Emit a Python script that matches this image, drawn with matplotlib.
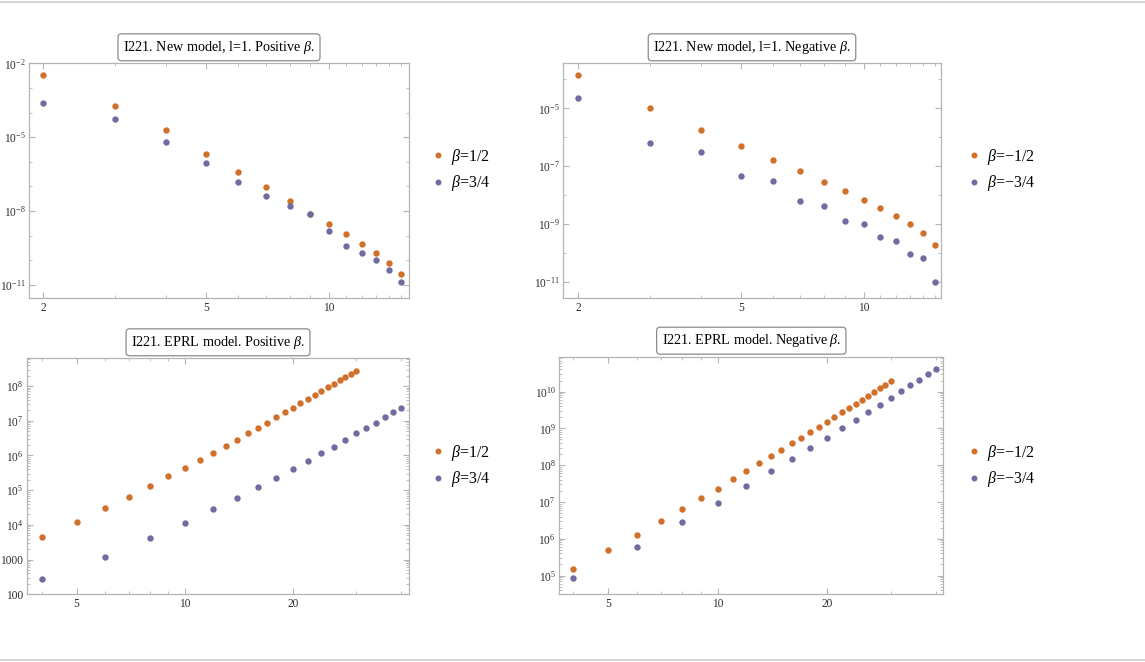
import matplotlib
matplotlib.use("Agg")
import matplotlib.pyplot as plt
import numpy as np
from matplotlib.lines import Line2D
from matplotlib.ticker import FixedLocator, NullFormatter, FixedFormatter

plt.rcParams["font.family"] = ["Liberation Serif", "DejaVu Serif"]
plt.rcParams["mathtext.fontset"] = "custom"
plt.rcParams["mathtext.rm"] = "Liberation Serif"
plt.rcParams["mathtext.it"] = "Liberation Serif:italic"

ORANGE = "#D0702A"
PURPLE = "#6F6CA0"
FRAME = "#B4B4B4"

# ---- data ----
# New model, l=1, positive beta
new_x = [2, 3, 4, 5, 6, 7, 8, 9, 10, 11, 12, 13, 14, 15]
new_pos_12 = [3.4e-3, 1.9e-4, 2.0e-5, 2.0e-6, 3.9e-7, 9.5e-8, 2.5e-8, 7.9e-9,
              2.9e-9, 1.15e-9, 4.8e-10, 2.0e-10, 7.9e-11, 2.7e-11]
new_pos_34 = [2.4e-4, 5.6e-5, 6.5e-6, 8.9e-7, 1.5e-7, 4.1e-8, 1.6e-8, 7.9e-9,
              1.6e-9, 4.0e-10, 1.9e-10, 1.05e-10, 4.1e-11, 1.3e-11]
# New model, l=1, negative beta
new_neg_12 = [1.4e-4, 1.0e-5, 1.8e-6, 5.1e-7, 1.7e-7, 6.8e-8, 2.9e-8, 1.4e-8,
              6.9e-9, 3.6e-9, 1.9e-9, 1.0e-9, 5.0e-10, 1.9e-10]
new_neg_34 = [2.3e-5, 6.6e-7, 3.1e-7, 4.5e-8, 3.1e-8, 6.2e-9, 4.2e-9, 1.3e-9,
              1.0e-9, 3.5e-10, 2.5e-10, 8.9e-11, 6.5e-11, 9.8e-12]

# EPRL model
eprl_x12 = list(range(4, 31))
eprl_x34 = list(range(4, 41, 2))
eprl_pos_12 = [4.5e3, 1.2e4, 3.0e4, 6.3e4, 1.3e5, 2.5e5, 4.4e5, 7.4e5, 1.2e6,
               1.9e6, 2.8e6, 4.3e6, 6.2e6, 8.9e6, 1.26e7, 1.74e7, 2.3e7, 3.2e7,
               4.2e7, 5.5e7, 7.1e7, 9.1e7, 1.17e8, 1.48e8, 1.86e8, 2.24e8, 2.8e8]
eprl_pos_34 = [2.8e2, 1.2e3, 4.1e3, 1.1e4, 2.8e4, 6.0e4, 1.23e5, 2.3e5, 4.2e5,
               7.1e5, 1.17e6, 1.8e6, 2.8e6, 4.3e6, 6.2e6, 8.7e6, 1.26e7, 1.74e7,
               2.3e7]
eprl_neg_12 = [1.55e5, 4.8e5, 1.3e6, 3.0e6, 6.5e6, 1.26e7, 2.3e7, 4.2e7, 6.9e7,
               1.12e8, 1.74e8, 2.6e8, 4.0e8, 5.6e8, 7.9e8, 1.12e9, 1.5e9, 2.1e9,
               2.8e9, 3.7e9, 4.7e9, 6.0e9, 7.8e9, 1.0e10, 1.26e10, 1.55e10,
               1.95e10]
eprl_neg_34 = [8.5e4, 6.0e5, 2.9e6, 9.5e6, 2.8e7, 6.8e7, 1.48e8, 3.0e8, 5.5e8,
               1.0e9, 1.66e9, 2.75e9, 4.4e9, 6.8e9, 1.02e10, 1.48e10, 2.1e10,
               3.0e10, 4.2e10]

titles = [r"I221. New model, l=1. Positive $\beta$.",
          r"I221. New model, l=1. Negative $\beta$.",
          r"I221. EPRL model. Positive $\beta$.",
          r"I221. EPRL model. Negative $\beta$."]
labels_pos = [r"$\beta$=1/2", r"$\beta$=3/4"]
labels_neg = [r"$\beta$=−1/2", r"$\beta$=−3/4"]

W, H = 1145, 662
fig = plt.figure(figsize=(W / 100, H / 100), dpi=100)


def rect(x0, y0, x1, y1):
    return [x0 / W, 1 - y1 / H, (x1 - x0) / W, (y1 - y0) / H]


def style(ax, xlim, ylim, xmaj, xlab, xmin, ymaj, ylab, ymin):
    ax.set_xscale("log")
    ax.set_yscale("log")
    ax.set_xlim(*xlim)
    ax.set_ylim(*ylim)
    ax.xaxis.set_major_locator(FixedLocator(xmaj))
    ax.xaxis.set_major_formatter(FixedFormatter(xlab))
    ax.xaxis.set_minor_locator(FixedLocator(xmin))
    ax.xaxis.set_minor_formatter(NullFormatter())
    ax.yaxis.set_major_locator(FixedLocator(ymaj))
    ax.yaxis.set_major_formatter(FixedFormatter(ylab))
    ax.yaxis.set_minor_locator(FixedLocator(ymin))
    ax.yaxis.set_minor_formatter(NullFormatter())
    for s in ax.spines.values():
        s.set_color(FRAME)
        s.set_linewidth(0.9)
    ax.tick_params(which="both", direction="in", top=True, right=True,
                   color=FRAME, labelcolor="#2E2E2E", labelsize=8.3, pad=2.5)
    ax.tick_params(which="major", length=4, width=0.8)
    ax.tick_params(which="minor", length=2, width=0.6)


def title(ax, txt):
    ax.set_title(txt, fontsize=10.2, pad=9,
                 bbox=dict(boxstyle="round,pad=0.35,rounding_size=0.25",
                           fc="white", ec="#8C8C8C", lw=0.9))


def dots(ax, x, y, c):
    ax.plot(x, y, "o", color=c, ms=4.6, mec="none", clip_on=False)


def legend(x, y, labs):
    h = [Line2D([], [], ls="none", marker="o", ms=4.3, color=ORANGE, mec="none"),
         Line2D([], [], ls="none", marker="o", ms=4.3, color=PURPLE, mec="none")]
    fig.legend(h, labs, loc="center left", bbox_to_anchor=(x / W, 1 - y / H),
               frameon=False, fontsize=11.5, handlelength=0.6, handletextpad=0.55,
               labelspacing=0.4, borderpad=0, borderaxespad=0)


xmin_top = [3, 4, 6, 7, 8, 9, 11, 12, 13, 14, 15]
xmin_bot = [4, 6, 7, 8, 9, 30, 40]

# top left
ax1 = fig.add_axes(rect(29, 63.3, 409, 298.3))
style(ax1, (1.845, 15.67), (10 ** -11.54, 1e-2),
      [2, 5, 10], ["2", "5", "10"], xmin_top,
      [1e-2, 1e-5, 1e-8, 1e-11],
      [r"$10^{-2}$", r"$10^{-5}$", r"$10^{-8}$", r"$10^{-11}$"],
      [10.0 ** k for k in range(-11, -1)])
dots(ax1, new_x, new_pos_12, ORANGE)
dots(ax1, new_x, new_pos_34, PURPLE)
title(ax1, titles[0])
legend(433, 170, labels_pos)

# top right
ax2 = fig.add_axes(rect(563.3, 63.3, 940.7, 298.3))
style(ax2, (1.837, 15.46), (10 ** -11.57, 10 ** -3.44),
      [2, 5, 10], ["2", "5", "10"], xmin_top,
      [1e-5, 1e-7, 1e-9, 1e-11],
      [r"$10^{-5}$", r"$10^{-7}$", r"$10^{-9}$", r"$10^{-11}$"],
      [10.0 ** k for k in range(-11, -3)])
dots(ax2, new_x, new_neg_12, ORANGE)
dots(ax2, new_x, new_neg_34, PURPLE)
title(ax2, titles[1])
legend(969, 170, labels_neg)

# bottom left
ax3 = fig.add_axes(rect(26.7, 358.3, 409.3, 594.3))
style(ax3, (3.63, 42.2), (100, 10 ** 8.8),
      [5, 10, 20], ["5", "10", "20"], xmin_bot,
      [1e2, 1e3, 1e4, 1e5, 1e6, 1e7, 1e8],
      ["100", "1000", r"$10^{4}$", r"$10^{5}$", r"$10^{6}$", r"$10^{7}$",
       r"$10^{8}$"],
      [m * 10.0 ** k for k in range(2, 9) for m in (2, 3, 4, 5, 6, 7, 8, 9)])
dots(ax3, eprl_x12, eprl_pos_12, ORANGE)
dots(ax3, eprl_x34, eprl_pos_34, PURPLE)
title(ax3, titles[2])
legend(433, 466, labels_pos)

# bottom right
ax4 = fig.add_axes(rect(559.3, 356.7, 943.3, 594.3))
style(ax4, (3.66, 41.9), (10 ** 4.49, 10 ** 10.95),
      [5, 10, 20], ["5", "10", "20"], xmin_bot,
      [1e5, 1e6, 1e7, 1e8, 1e9, 1e10],
      [r"$10^{5}$", r"$10^{6}$", r"$10^{7}$", r"$10^{8}$", r"$10^{9}$",
       r"$10^{10}$"],
      [m * 10.0 ** k for k in range(4, 11) for m in (2, 3, 4, 5, 6, 7, 8, 9)])
dots(ax4, eprl_x12, eprl_neg_12, ORANGE)
dots(ax4, eprl_x34, eprl_neg_34, PURPLE)
title(ax4, titles[3])
legend(969, 466, labels_neg)

# thin rules at top and bottom of the image
fig.add_artist(Line2D([0, 1], [1 - 1.5 / H, 1 - 1.5 / H], color="#CCCCCC", lw=1.2))
fig.add_artist(Line2D([0, 1], [1 - 660 / H, 1 - 660 / H], color="#CCCCCC", lw=1.2))

fig.savefig("out.png", dpi=100)
